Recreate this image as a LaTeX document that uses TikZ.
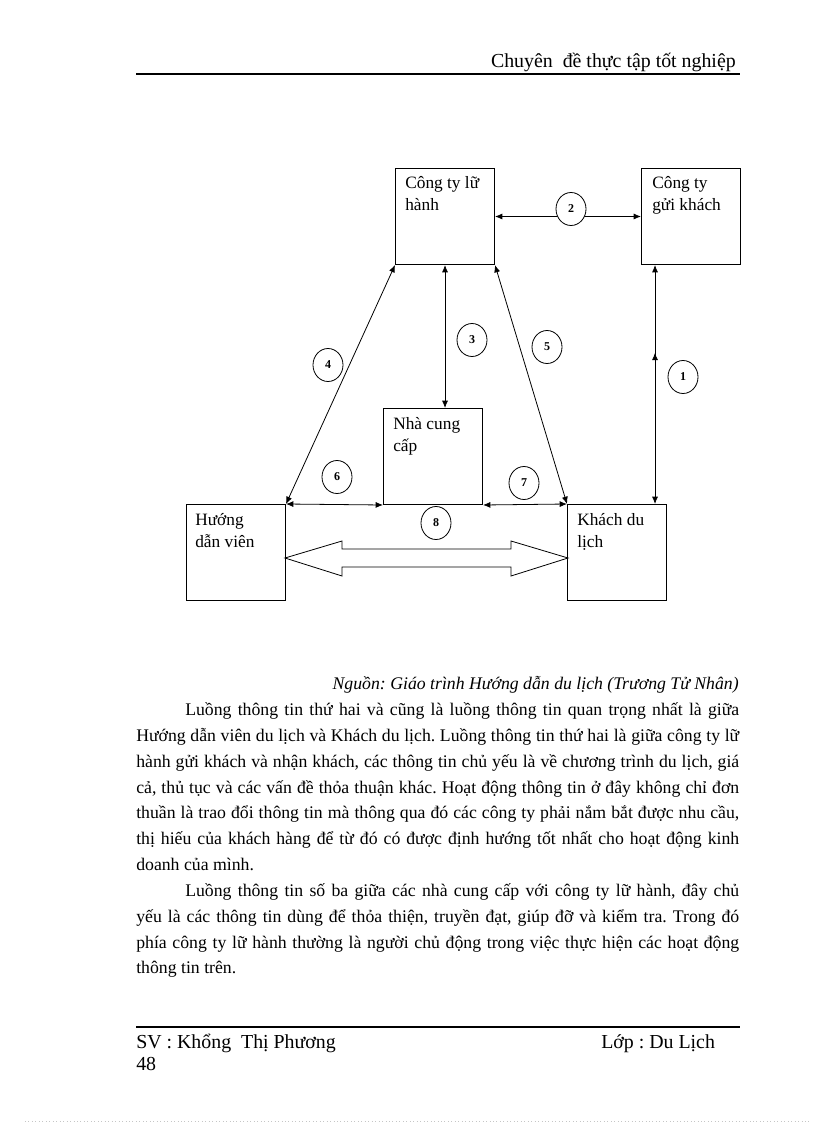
\documentclass[tikz,border=0pt]{standalone}
\usepackage{fontspec}
\setmainfont{Liberation Serif}
\frenchspacing
\usetikzlibrary{arrows.meta,calc,decorations.markings,shapes.geometric}
\begin{document}
\begin{tikzpicture}[x=0.75pt,y=-0.75pt,
 boxnode/.style={draw,line width=0.75pt,minimum width=74.25pt,minimum height=72pt,anchor=north west,inner sep=0pt},
 boxtxt/.style={anchor=base west,inner sep=0pt,font=\fontsize{13}{16}\selectfont},
 link/.style={line width=0.6pt,{Latex[length=5.5pt,width=4.5pt]}-{Latex[length=5.5pt,width=4.5pt]}},
 num/.style={draw,ellipse,fill=white,minimum width=22.5pt,minimum height=24.75pt,inner sep=0pt,line width=0.6pt,font=\fontsize{9}{10}\selectfont\bfseries},
 body/.style={anchor=base west,inner sep=0pt,font=\fontsize{13.3}{16}\selectfont\frenchspacing},
 hf/.style={inner sep=0pt,font=\fontsize{14.9}{17}\selectfont},
]
\useasboundingbox (0,0) rectangle (816,1123);

% header
\node[hf,anchor=base east] (hdr) at (736,68) {Chuyên\ \ đề thực tập tốt nghiệp};
\draw[line width=1.6pt] (136,74) -- (740,74);

% boxes
\node[boxnode] (LH) at (395,168) {};
\node[boxnode] (GK) at (641,168) {};
\node[boxnode] (NCC) at (383,408) {};
\node[boxnode] (HDV) at (186,504) {};
\node[boxnode] (KDL) at (567,504) {};

\node[boxtxt] (lh1) at ($(LH.north west)+(10,21)$) {Công ty lữ};
\node[boxtxt] (lh2) at ($(LH.north west)+(10,43)$) {hành};
\node[boxtxt] (gk1) at ($(GK.north west)+(11,21)$) {Công ty};
\node[boxtxt] (gk2) at ($(GK.north west)+(11,43)$) {gửi khách};
\node[boxtxt] (ncc1) at ($(NCC.north west)+(10,21)$) {Nhà cung};
\node[boxtxt] (ncc2) at ($(NCC.north west)+(10,43)$) {cấp};
\node[boxtxt] (hdv1) at ($(HDV.north west)+(9,21)$) {Hướng};
\node[boxtxt] (hdv2) at ($(HDV.north west)+(9,43)$) {dẫn viên};
\node[boxtxt] (kdl1) at ($(KDL.north west)+(10,21)$) {Khách du};
\node[boxtxt] (kdl2) at ($(KDL.north west)+(10,43)$) {lịch};

% connectors
\coordinate (x1) at (655,0);
\draw[link,postaction={decorate},decoration={markings,mark=at position 0.633 with {\arrow{Latex[length=5.5pt,width=4.5pt]}}}]
  (x1 |- KDL.north) -- (x1 |- GK.south);
\draw[link] (LH.east) -- (GK.west);
\coordinate (x3) at (445,0);
\draw[link] (x3 |- LH.south) -- (x3 |- NCC.north);
\draw[link] (LH.south west) -- (HDV.north east);
\draw[link] (LH.south east) -- (KDL.north west);
\draw[link] (HDV.north east) -- (NCC.south west);
\draw[link] (NCC.south east) -- (KDL.north west);

% big hollow double arrow
\draw[line width=0.6pt] (285,558) -- (342,541) -- (342,549) -- (511,549) -- (511,541) -- (568,558)
  -- (511,576) -- (511,567) -- (342,567) -- (342,576) -- cycle;

% numbered circles
\node[num] (n1) at (683,377) {1};
\node[num] (n2) at (571,209) {2};
\node[num] (n3) at (472,340) {3};
\node[num] (n4) at (328,365) {4};
\node[num] (n5) at (547,347) {5};
\node[num] (n6) at (337,477) {6};
\node[num] (n7) at (524,483) {7};
\node[num] (n8) at (436,523) {8};

% source
\node[body,anchor=base east] (src) at (739,689) {\itshape Nguồn: Giáo trình Hướng dẫn du lịch (Trương Tử Nhân)};

% paragraph 1
\node[body] (p1a) at (185,715) {\makebox[415.5pt][s]{Luồng thông tin thứ hai và cũng là luồng thông tin quan trọng nhất là giữa}};
\node[body] (p1b) at (136,741) {\makebox[452.25pt][s]{Hướng dẫn viên du lịch và Khách du lịch. Luồng thông tin thứ hai là giữa công ty lữ}};
\node[body] (p1c) at (136,767) {\makebox[452.25pt][s]{hành gửi khách và nhận khách, các thông tin chủ yếu là về chương trình du lịch, giá}};
\node[body] (p1d) at (136,793) {\makebox[452.25pt][s]{cả, thủ tục và các vấn đề thỏa thuận khác. Hoạt động thông tin ở đây không chỉ đơn}};
\node[body] (p1e) at (136,818) {\makebox[452.25pt][s]{thuần là trao đổi thông tin mà thông qua đó các công ty phải nắm bắt được nhu cầu,}};
\node[body] (p1f) at (136,844) {\makebox[452.25pt][s]{thị hiếu của khách hàng để từ đó có được định hướng tốt nhất cho hoạt động kinh}};
\node[body] (p1g) at (136,870) {doanh của mình.};

% paragraph 2
\node[body] (p2a) at (185,896) {\makebox[415.5pt][s]{Luồng thông tin số ba giữa các nhà cung cấp với công ty lữ hành, đây chủ}};
\node[body] (p2b) at (136,922) {\makebox[452.25pt][s]{yếu là các thông tin dùng để thỏa thiện, truyền đạt, giúp đỡ và kiểm tra. Trong đó}};
\node[body] (p2c) at (136,948) {\makebox[452.25pt][s]{phía công ty lữ hành thường là người chủ động trong việc thực hiện các hoạt động}};
\node[body] (p2d) at (136,973) {thông tin trên.};

% footer
\draw[line width=1.6pt] (136,1027) -- (740,1027);
\node[hf,anchor=base west] (sv) at (136,1048) {SV : Khổng\ \ Thị Phương};
\node[hf,anchor=base west] (lop) at (601,1048) {Lớp : Du Lịch};
\node[hf,anchor=base west] (pg) at (136,1070) {48};
\draw[gray!45,dotted,line width=0.6pt] (25,1121) -- (810,1121);
\end{tikzpicture}
\end{document}
